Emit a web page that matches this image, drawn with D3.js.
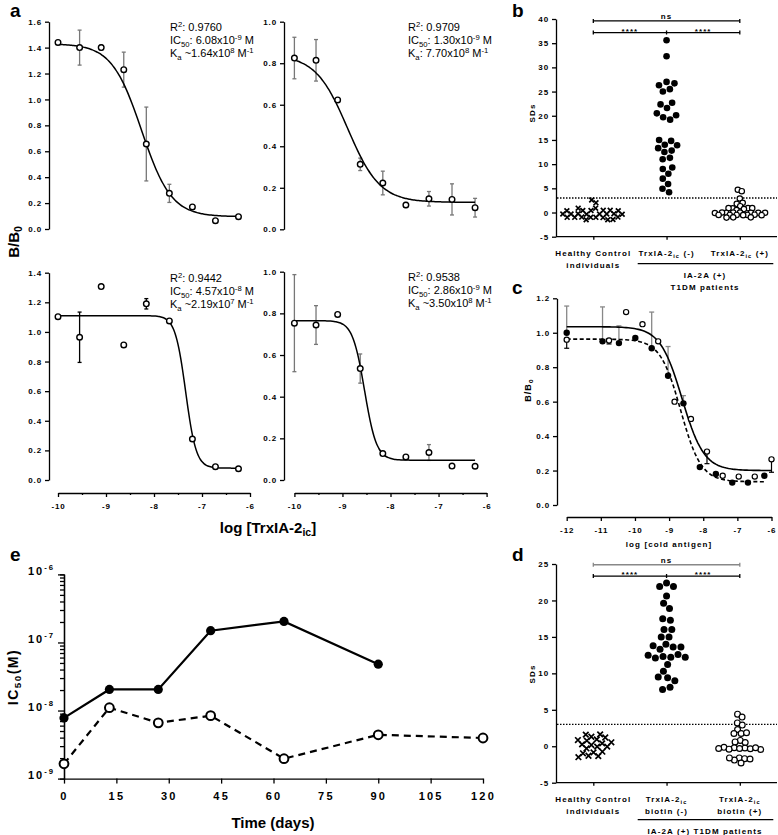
<!DOCTYPE html>
<html>
<head>
<meta charset="utf-8">
<script src="https://cdn.jsdelivr.net/npm/d3@7"></script>
<style>
  body { margin: 0; background: #fff; }
  svg text { font-family: "Liberation Sans", Arial, sans-serif; fill: #000; }
  .tk text { font-size: 8px; font-weight: bold; letter-spacing: 0.9px; }
  .tk path, .tk line { stroke: #000; stroke-width: 1.3; }
  .lbl { font-size: 8px; font-weight: bold; letter-spacing: 1.1px; }
  .panel { font-size: 19px; font-weight: bold; }
  .stat { font-size: 11px; }
</style>
</head>
<body>
<svg id="fig" width="778" height="835"></svg>
<script>
// ---- panel a: competition curves (log concentration of TrxIA-2ic)
const aConc = [-10, -9.55, -9.1, -8.63, -8.16, -7.68, -7.2, -6.72, -6.24];
const aMeanTL = [1.44, 1.40, 1.40, 1.23, 0.656, 0.275, 0.17, 0.064, 0.095];
const aErrTL = [0, 0.135, 0.02, 0.135, 0.285, 0.07, 0, 0, 0];
const aMeanTR = [0.825, 0.814, 0.623, 0.313, 0.223, 0.117, 0.147, 0.144, 0.104];
const aErrTR = [0.1, 0.1, 0, 0.03, 0.057, 0.012, 0.035, 0.075, 0.045];
const aMeanBL = [1.103, 0.964, 1.306, 0.912, 1.19, 1.074, 0.277, 0.09, 0.076];
const aErrBL = [0, 0.17, 0, 0, 0.035, 0, 0, 0, 0];
const aMeanBR = [0.753, 0.744, 0.795, 0.535, 0.127, 0.111, 0.132, 0.067, 0.066];
const aErrBR = [0.233, 0.093, 0, 0.07, 0, 0, 0.038, 0, 0];
// fit params: top, bottom, logIC50, hill slope
const aFitTL = [1.43, 0.095, -8.26, 1.4];
const aFitTR = [0.84, 0.13, -8.89, 1.3];
const aFitBL = [1.11, 0.08, -7.34, 4.0];
const aFitBR = [0.765, 0.095, -8.54, 3.5];
const aR2 = ['0.9760', '0.9709', '0.9442', '0.9538'];
const aIC50 = ['6.08', '1.30', '4.57', '2.86'];
const aIC50Exp = ['-9', '-9', '-8', '-9'];
const aKaSep = [' ~', ': ', ' ~', ' ~'];
const aKa = ['1.64', '7.70', '2.19', '3.50'];
const aKaExp = ['8', '8', '7', '8'];

// ---- panels b and d: SDs scatter
const bCats = ['hc', 'neg', 'pos'];
const bHealthy = [2.6, 2.0, 0.9, 0.9, 0.45, 0.35, 0.4, 0.45, 0.4, 0.35, -0.3, -0.25, -0.3, -0.35,
  -0.3, -0.25, -0.3, -0.35, -1.0, -0.95, -1.0, -1.05, -1.0, -0.95, -1.0, -1.5, -1.5, -1.45];
const bNeg = [35.6, 32.3, 27.0, 26.7, 26.3, 25.5, 25.0, 22.7, 22.35, 21.6, 20.5, 20.1, 19.7, 19.2,
  15.0, 14.8, 14.0, 13.9, 13.3, 12.8, 12.5, 11.3, 11.0, 9.3, 9.0, 8.0, 7.0, 5.9, 4.9, 4.2];
const bPos = [4.7, 4.4, 2.9, 2.0, 1.8, 1.3, 0.9, 0.85, 0.9, 0.7, 0.5, 0.9, -0.05, 0, -0.05, 0,
  -0.1, -0.05, 0, -0.05, -0.5, -0.55, -0.5, -0.45, -0.5, -0.55, -0.5, -1.0, -1.05, -1.0];
const dHealthy = [1.63, 1.3, 0.95, 0.76, 0.85, 1.2, 1.6, 0.4, 0.17, -0.05, -0.3, -0.05, 0.26, 0.54,
  -0.85, -1.3, -1.5, -1.35, -0.97, -0.75];
const dNeg = [22.4, 21.9, 21.9, 20.6, 19.6, 18.9, 17.5, 17.3, 16.0, 16.0, 15.0, 15.0, 14.0, 13.6,
  13.3, 13.6, 13.8, 12.6, 12.3, 12.2, 12.1, 12.2, 12.5, 11.2, 10.3, 9.4, 9.5, 9.0, 7.8, 8.1];
const dPos = [4.4, 4.0, 3.2, 2.9, 2.3, 1.75, 1.75, 1.85, 0.8, 0.5, 0.6, -0.15, -0.2, -0.25, -0.3,
  -0.35, -0.4, -0.45, -0.3, -0.2, -1.6, -1.7, -1.9, -1.75, -1.6, -2.3];
const sdCutoff = 3;
const bSigLevels = [39.6, 37.2];
const dSigLevels = [24.9, 23.35];
const bYTicks = [-5, 0, 5, 10, 15, 20, 25, 30, 35, 40];
const dYTicks = [-5, 0, 5, 10, 15, 20, 25];

// ---- panel c: cold antigen competition
const cConcFilled = [-12, -10.95, -10.47, -9.99, -9.51, -9.03, -8.58, -8.1, -7.63, -7.15, -6.69, -6.21];
const cFilled = [1.0, 0.95, 0.94, 0.97, 0.91, 0.75, 0.59, 0.22, 0.18, 0.13, 0.13, 0.17];
const cFilledErr = [0.155, 0.2, 0.1, 0, 0.21, 0.17, 0.045, 0, 0, 0, 0, 0];
const cConcOpen = [-12, -10.76, -10.26, -9.78, -9.32, -8.84, -8.36, -7.89, -7.43, -6.96, -6.49, -6.0];
const cOpen = [0.96, 0.955, 1.12, 1.05, 0.95, 0.60, 0.50, 0.31, 0.17, 0.165, 0.165, 0.265];
const cOpenErr = [0.05, 0.02, 0, 0, 0, 0, 0, 0.07, 0, 0, 0, 0.075];
const cFitOpen = [1.035, 0.2, -8.62, 1.35];
const cFitFilled = [0.963, 0.135, -8.66, 1.45];

// ---- panel e: IC50 over time
const eDaysFilled = [0, 13, 27, 42, 63, 90];
const eIC50Filled = [7.8e-9, 2.04e-8, 2.04e-8, 1.49e-7, 2.04e-7, 4.8e-8];
const eDaysOpen = [0, 13, 27, 42, 63, 90, 120];
const eIC50Open = [1.65e-9, 1.1e-8, 6.6e-9, 8.4e-9, 1.96e-9, 4.4e-9, 3.95e-9];
const eXTicks = [0, 15, 30, 45, 60, 75, 90, 105, 120];

const svg = d3.select('#fig');
const hy = d => String(d); // keep plain hyphen minus

// write text made of normal / sup / sub pieces
function rich(t, parts, shift) {
  let cur = 0;
  parts.forEach(([s, kind]) => {
    const target = kind === 'sup' ? -shift : kind === 'sub' ? shift * 0.6 : 0;
    const ts = t.append('tspan').attr('dy', target - cur).text(s);
    if (kind !== 'n') ts.style('font-size', '0.7em');
    cur = target;
  });
}

function logistic(p) {
  return x => p[1] + (p[0] - p[1]) / (1 + Math.pow(10, (x - p[2]) * p[3]));
}

function styleAxis(g) {
  g.attr('class', 'tk');
  g.selectAll('text').attr('fill', '#000');
}

// ================= panel a =================
const aPanels = [
  { mean: aMeanTL, err: aErrTL, fit: aFitTL, ymax: 1.6, col: 0, yr: [229, 21.7], ec: '#777' },
  { mean: aMeanTR, err: aErrTR, fit: aFitTR, ymax: 1.0, col: 1, yr: [229.3, 21.7], ec: '#777' },
  { mean: aMeanBL, err: aErrBL, fit: aFitBL, ymax: 1.4, col: 0, yr: [480, 272.7], ec: '#000' },
  { mean: aMeanBR, err: aErrBR, fit: aFitBR, ymax: 1.0, col: 1, yr: [480, 271.7], ec: '#777' }
];
const aColX = [[58, 250], [294.4, 486.6]];
const aAxisX = [49, 284];
const aStatX = [170, 408];

aPanels.forEach((p, i) => {
  const x = d3.scaleLinear().domain([-10, -6]).range(aColX[p.col]);
  const y = d3.scaleLinear().domain([0, p.ymax]).range(p.yr);
  const g = svg.append('g');
  const yTicks = d3.range(0, p.ymax + 0.001, 0.2);
  g.append('g').attr('transform', `translate(${aAxisX[p.col]},0)`)
    .call(d3.axisLeft(y).tickValues(yTicks).tickSize(4).tickSizeOuter(0).tickFormat(d => d.toFixed(1)))
    .call(styleAxis);

  // error bars
  const eb = g.append('g').attr('stroke', p.ec).attr('stroke-width', 1.3);
  aConc.forEach((c, k) => {
    if (!p.err[k]) return;
    const y0 = y(p.mean[k] - p.err[k]), y1 = y(p.mean[k] + p.err[k]);
    eb.append('line').attr('x1', x(c)).attr('x2', x(c)).attr('y1', y0).attr('y2', y1);
    [y0, y1].forEach(yy => eb.append('line').attr('x1', x(c) - 2).attr('x2', x(c) + 2).attr('y1', yy).attr('y2', yy));
  });

  const f = logistic(p.fit);
  const xs = d3.range(101).map(k => aConc[0] + (aConc[aConc.length - 1] - aConc[0]) * k / 100);
  g.append('path').datum(xs)
    .attr('d', d3.line().x(d => x(d)).y(d => y(f(d))).curve(d3.curveBasis))
    .attr('fill', 'none').attr('stroke', '#000').attr('stroke-width', 1.5);

  g.selectAll('circle').data(p.mean).join('circle')
    .attr('cx', (d, k) => x(aConc[k])).attr('cy', d => y(d)).attr('r', 2.8)
    .attr('fill', '#fff').attr('stroke', '#000').attr('stroke-width', 1.4);

  const sx = aStatX[p.col], sy = p.yr[1] + 9.5;
  const l1 = g.append('text').attr('class', 'stat').attr('x', sx).attr('y', sy);
  rich(l1, [['R', 'n'], ['2', 'sup'], [': ' + aR2[i], 'n']], 4);
  const l2 = g.append('text').attr('class', 'stat').attr('x', sx).attr('y', sy + 13);
  rich(l2, [['IC', 'n'], ['50', 'sub'], [': ' + aIC50[i] + 'x10', 'n'], [aIC50Exp[i], 'sup'], [' M', 'n']], 4);
  const l3 = g.append('text').attr('class', 'stat').attr('x', sx).attr('y', sy + 26);
  rich(l3, [['K', 'n'], ['a', 'sub'], [aKaSep[i] + aKa[i] + 'x10', 'n'], [aKaExp[i], 'sup'], [' M', 'n'], ['-1', 'sup']], 4);

  if (p.yr[0] > 400) {
    const xa = g.append('g').attr('transform', 'translate(0,493)');
    xa.call(d3.axisBottom(x).tickValues([-10, -9, -8, -7, -6]).tickSize(4).tickPadding(6).tickSizeOuter(0).tickFormat(hy))
      .call(styleAxis);
    xa.append('g').call(d3.axisBottom(x).tickValues([-9.5, -8.5, -7.5, -6.5]).tickSize(2).tickFormat(''))
      .call(s => s.select('.domain').remove()).call(styleAxis);
  }
});

svg.append('text').attr('class', 'panel').attr('x', 10).attr('y', 17).text('a');
const aYl = svg.append('text').attr('transform', 'translate(19,242) rotate(-90)')
  .attr('text-anchor', 'middle').style('font-size', '15px').style('font-weight', 'bold');
rich(aYl, [['B/B', 'n'], ['0', 'sub']], 5);
const aXl = svg.append('text').attr('x', 268).attr('y', 533).attr('text-anchor', 'middle')
  .style('font-size', '15px').style('font-weight', 'bold');
rich(aXl, [['log [TrxIA-2', 'n'], ['ic', 'sub'], [']', 'n']], 5);

// ================= panels b and d =================
function swarm(values, cx, y, r) {
  const nodes = values.map((v, i) => ({ v, fy: y(v), x: cx + (i % 2 ? 1 : -1) * i * 0.4 }));
  const sim = d3.forceSimulation(nodes)
    .force('x', d3.forceX(cx).strength(0.2))
    .force('c', d3.forceCollide(r).iterations(3))
    .stop();
  for (let k = 0; k < 300; k++) sim.tick();
  return nodes;
}

function catLabel(g, x, y, lines) {
  lines.forEach((ln, k) => {
    const t = g.append('text').attr('class', 'lbl').attr('x', x).attr('y', y + k * 12).attr('text-anchor', 'middle');
    rich(t, ln, 3);
  });
}

function sdPanel(o) {
  const g = svg.append('g');
  const y = d3.scaleLinear().domain([-5, o.ymax]).range(o.yr);
  const x = d3.scalePoint().domain(bCats).range([593.3, 739.8]);
  g.append('g').attr('transform', 'translate(556,0)')
    .call(d3.axisLeft(y).tickValues(o.ticks).tickSize(4).tickSizeOuter(0).tickFormat(hy)).call(styleAxis);
  g.append('g').attr('transform', `translate(0,${o.yr[0]})`)
    .call(d3.axisBottom(x).tickSize(3).tickFormat('')).call(styleAxis)
    .call(s => s.select('.domain').attr('d', `M556,0H777`));

  g.append('line').attr('x1', 557).attr('x2', 777).attr('y1', y(sdCutoff)).attr('y2', y(sdCutoff))
    .attr('stroke', '#000').attr('stroke-width', 1.3).attr('stroke-dasharray', '1.5,1.5');

  // significance bars
  const x0 = x('hc'), x1 = x('neg'), x2 = x('pos');
  const sb = g.append('g').attr('stroke-width', 1.3);
  const yTop = y(o.sig[0]), yLow = y(o.sig[1]);
  sb.append('path').attr('d', `M${x0},${yTop}H${x2}M${x0},${yTop - 2}V${yTop + 2}M${x2},${yTop - 2}V${yTop + 2}`)
    .attr('stroke', o.nsColor).attr('fill', 'none');
  sb.append('path').attr('d', `M${x0},${yLow}H${x2}M${x0},${yLow - 2}V${yLow + 2}M${x1},${yLow - 2}V${yLow + 2}M${x2},${yLow - 2}V${yLow + 2}`)
    .attr('stroke', '#000').attr('fill', 'none');
  g.append('text').attr('class', 'lbl').attr('x', x1).attr('y', yTop - 2).attr('text-anchor', 'middle').text('ns');
  g.append('text').attr('class', 'lbl').attr('x', (x0 + x1) / 2).attr('y', yLow + 1).attr('text-anchor', 'middle').text('****');
  g.append('text').attr('class', 'lbl').attr('x', (x1 + x2) / 2).attr('y', yLow + 1).attr('text-anchor', 'middle').text('****');

  // points
  const hs = o.cross;
  swarm(o.hc, x('hc'), y, o.crossCol).forEach(n => {
    g.append('path').attr('d', `M${n.x - hs},${n.fy - hs}L${n.x + hs},${n.fy + hs}M${n.x - hs},${n.fy + hs}L${n.x + hs},${n.fy - hs}`)
      .attr('stroke', '#000').attr('stroke-width', 1.7);
  });
  swarm(o.neg, x('neg'), y, o.r + 0.4).forEach(n => {
    g.append('circle').attr('cx', n.x).attr('cy', n.fy).attr('r', o.r).attr('fill', '#000');
  });
  swarm(o.pos, x('pos'), y, o.openCol).forEach(n => {
    g.append('circle').attr('cx', n.x).attr('cy', n.fy).attr('r', o.r - 0.6)
      .attr('fill', '#fff').attr('stroke', '#000').attr('stroke-width', 1.2);
  });

  const ly = o.yr[0] + 19;
  catLabel(g, x('hc'), ly, [[['Healthy Control', 'n']], [['individuals', 'n']]]);
  o.catLines.forEach((lines, k) => catLabel(g, x(bCats[k + 1]), ly, lines));
  const ux = 637.7, uy = ly + o.underDy;
  g.append('line').attr('x1', ux).attr('x2', 773.3).attr('y1', uy).attr('y2', uy).attr('stroke', '#000').attr('stroke-width', 1.3);
  o.groupLines.forEach((s, k) => g.append('text').attr('class', 'lbl').attr('x', 705).attr('y', uy + 14 + k * 12)
    .attr('text-anchor', 'middle').text(s));
  g.append('text').attr('class', 'lbl').attr('transform', `translate(535,${o.yLab}) rotate(-90)`)
    .attr('text-anchor', 'middle').text('SDs');
  svg.append('text').attr('class', 'panel').attr('x', o.letter[0]).attr('y', o.letter[1]).text(o.name);
}

const trx = s => [['TrxIA-2', 'n'], ['ic', 'sub'], [s, 'n']];
sdPanel({
  name: 'b', letter: [512, 17], ymax: 40, yr: [236.7, 19], ticks: bYTicks, sig: bSigLevels, nsColor: '#000',
  hc: bHealthy, neg: bNeg, pos: bPos, r: 3.3, cross: 2.4, crossCol: 2.6, openCol: 2.1, yLab: 113,
  catLines: [[trx(' (-)')], [trx(' (+)')]], underDy: 8, groupLines: ['IA-2A (+)', 'T1DM patients']
});
sdPanel({
  name: 'd', letter: [512, 561], ymax: 25, yr: [782.7, 564], ticks: dYTicks, sig: dSigLevels, nsColor: '#888',
  hc: dHealthy, neg: dNeg, pos: dPos, r: 3.5, cross: 2.8, crossCol: 3.0, openCol: 2.7, yLab: 674,
  catLines: [[trx(''), [['biotin (-)', 'n']]], [trx(''), [['biotin (+)', 'n']]]], underDy: 18,
  groupLines: ['IA-2A (+) T1DM patients']
});

// ================= panel c =================
(function () {
  const g = svg.append('g');
  const x = d3.scaleLinear().domain([-12, -6]).range([566.7, 771.5]);
  const y = d3.scaleLinear().domain([0, 1.2]).range([505, 298.3]);
  g.append('g').attr('transform', 'translate(557,0)')
    .call(d3.axisLeft(y).tickValues(d3.range(0, 1.21, 0.2)).tickSize(4).tickSizeOuter(0).tickFormat(d => d.toFixed(1)))
    .call(styleAxis);
  g.append('g').attr('transform', 'translate(0,517)')
    .call(d3.axisBottom(x).ticks(6).tickSize(4).tickPadding(6).tickSizeOuter(0).tickFormat(hy)).call(styleAxis);

  const fe = g.append('g').attr('stroke', '#888').attr('stroke-width', 1.3);
  cConcFilled.forEach((c, k) => {
    if (!cFilledErr[k]) return;
    const yt = y(cFilled[k] + cFilledErr[k]);
    fe.append('line').attr('x1', x(c)).attr('x2', x(c)).attr('y1', y(cFilled[k])).attr('y2', yt);
    fe.append('line').attr('x1', x(c) - 2.5).attr('x2', x(c) + 2.5).attr('y1', yt).attr('y2', yt);
  });
  const oe = g.append('g').attr('stroke', '#000').attr('stroke-width', 1.2);
  cConcOpen.forEach((c, k) => {
    if (!cOpenErr[k]) return;
    const yb = y(cOpen[k] - cOpenErr[k]);
    oe.append('line').attr('x1', x(c)).attr('x2', x(c)).attr('y1', y(cOpen[k])).attr('y2', yb);
    oe.append('line').attr('x1', x(c) - 2.5).attr('x2', x(c) + 2.5).attr('y1', yb).attr('y2', yb);
  });

  const fo = logistic(cFitOpen), ff = logistic(cFitFilled);
  const xsO = d3.range(101).map(k => -12 + 6 * k / 100);
  const xsF = d3.range(101).map(k => -12 + (cConcFilled[11] + 12) * k / 100);
  g.append('path').datum(xsO).attr('d', d3.line().x(d => x(d)).y(d => y(fo(d))))
    .attr('fill', 'none').attr('stroke', '#000').attr('stroke-width', 1.6);
  g.append('path').datum(xsF).attr('d', d3.line().x(d => x(d)).y(d => y(ff(d))))
    .attr('fill', 'none').attr('stroke', '#000').attr('stroke-width', 1.6).attr('stroke-dasharray', '4,2.5');

  cConcFilled.forEach((c, k) => g.append('circle').attr('cx', x(c)).attr('cy', y(cFilled[k])).attr('r', 3.2).attr('fill', '#000'));
  cConcOpen.forEach((c, k) => g.append('circle').attr('cx', x(c)).attr('cy', y(cOpen[k])).attr('r', 2.6)
    .attr('fill', '#fff').attr('stroke', '#000').attr('stroke-width', 1.2));

  g.append('text').attr('class', 'lbl').attr('x', 669).attr('y', 547).attr('text-anchor', 'middle').text('log [cold antigen]');
  const yl = g.append('text').attr('transform', 'translate(531,390) rotate(-90)').attr('text-anchor', 'middle')
    .style('font-size', '9px').style('font-weight', 'bold').style('letter-spacing', '1px');
  rich(yl, [['B/B', 'n'], ['o', 'sub']], 4);
  svg.append('text').attr('class', 'panel').attr('x', 512).attr('y', 294).text('c');
})();

// ================= panel e =================
(function () {
  const g = svg.append('g');
  const x = d3.scaleLinear().domain([0, 120]).range([64, 483]);
  const y = d3.scaleLog().domain([1e-9, 1e-6]).range([778.6, 574.4]);
  const minor = [];
  [1e-9, 1e-8, 1e-7].forEach(dec => d3.range(2, 10).forEach(m => minor.push(dec * m)));
  g.append('g').attr('transform', 'translate(64,0)')
    .call(d3.axisLeft(y).tickValues(minor).tickSize(4).tickFormat('')).call(styleAxis)
    .call(s => s.selectAll('line').attr('stroke-width', 1.1));
  const ya = g.append('g').attr('transform', 'translate(64,0)')
    .call(d3.axisLeft(y).tickValues([1e-9, 1e-8, 1e-7, 1e-6]).tickSize(6).tickSizeOuter(0).tickFormat(''))
    .call(styleAxis);
  ya.select('.domain').attr('stroke-width', 2.5);
  ya.selectAll('.tick').each(function (d) {
    const t = d3.select(this).append('text').attr('x', -9).attr('dy', '0.35em').attr('text-anchor', 'end')
      .style('font-size', '11px').style('font-weight', 'bold').style('letter-spacing', '2px');
    rich(t, [['10', 'n'], [String(Math.round(Math.log10(d))), 'sup']], 5);
  });
  const xa = g.append('g').attr('transform', 'translate(0,778.6)')
    .call(d3.axisBottom(x).tickValues(eXTicks).tickSize(5).tickPadding(9).tickSizeOuter(0).tickFormat(hy))
    .call(styleAxis);
  xa.select('.domain').attr('stroke-width', 2.5);
  xa.selectAll('line').attr('stroke-width', 2);
  xa.selectAll('text').style('font-size', '11px').style('letter-spacing', '2.2px');

  g.append('path').datum(eDaysOpen)
    .attr('d', d3.line().x(d => x(d)).y((d, k) => y(eIC50Open[k])))
    .attr('fill', 'none').attr('stroke', '#000').attr('stroke-width', 2.2).attr('stroke-dasharray', '7,5');
  g.append('path').datum(eDaysFilled)
    .attr('d', d3.line().x(d => x(d)).y((d, k) => y(eIC50Filled[k])))
    .attr('fill', 'none').attr('stroke', '#000').attr('stroke-width', 2.2);
  eDaysFilled.forEach((dd, k) => g.append('circle').attr('cx', x(dd)).attr('cy', y(eIC50Filled[k])).attr('r', 4.6).attr('fill', '#000'));
  eDaysOpen.forEach((dd, k) => g.append('circle').attr('cx', x(dd)).attr('cy', y(eIC50Open[k])).attr('r', 4.4)
    .attr('fill', '#fff').attr('stroke', '#000').attr('stroke-width', 2));

  g.append('text').attr('x', 273).attr('y', 828).attr('text-anchor', 'middle')
    .style('font-size', '15px').style('font-weight', 'bold').text('Time (days)');
  const yl = g.append('text').attr('transform', 'translate(18,677) rotate(-90)').attr('text-anchor', 'middle')
    .style('font-size', '14px').style('font-weight', 'bold').style('letter-spacing', '1.5px');
  rich(yl, [['IC', 'n'], ['50', 'sub'], ['(M)', 'n']], 5);
  svg.append('text').attr('class', 'panel').attr('x', 10).attr('y', 561).text('e');
})();
</script>
</body>
</html>
